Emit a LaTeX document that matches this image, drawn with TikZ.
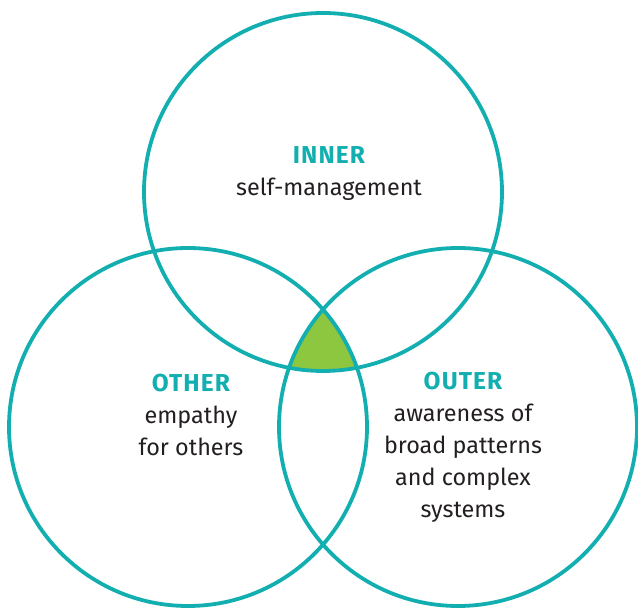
\documentclass[tikz,border=0pt]{standalone}
\usepackage{fontspec}
\setmainfont{Fira Sans}
\newfontfamily\venheadfont[LetterSpace=4.5]{Fira Sans Bold}
\usepackage{tikz}

\definecolor{venteal}{HTML}{13AFB0}
\definecolor{vengreen}{HTML}{8DC63F}
\definecolor{ventext}{HTML}{231F20}
\newcommand{\venhead}[1]{\textcolor{venteal}{\fontsize{24.5}{32}\venheadfont #1}}

\begin{document}
\begin{tikzpicture}[
  x=1pt, y=1pt,
  ring/.style={draw=venteal,line width=3.8pt},
  every node/.style={font=\fontsize{23.4}{32}\selectfont,align=center,text=ventext}
  ]

\useasboundingbox (0,0) rectangle (638,608);

\coordinate (inner) at (323,416);
\coordinate (other) at (188,181);
\coordinate (outer) at (458,181);

\begin{scope}
  \clip (inner) circle (179);
  \clip (other) circle (179);
  \fill[vengreen] (outer) circle (179);
\end{scope}

\draw[ring] (inner) circle (179);
\draw[ring] (other) circle (179);
\draw[ring] (outer) circle (179);

\node at (329,434) (innerlbl) {\venhead{INNER}\\ self-management};
\node at (191,193) (otherlbl) {\venhead{OTHER}\\ empathy\\ for others};
\node at (463,161) (outerlbl) {\venhead{OUTER}\\ awareness of\\ broad patterns\\ and complex\\ systems};

\end{tikzpicture}
\end{document}
